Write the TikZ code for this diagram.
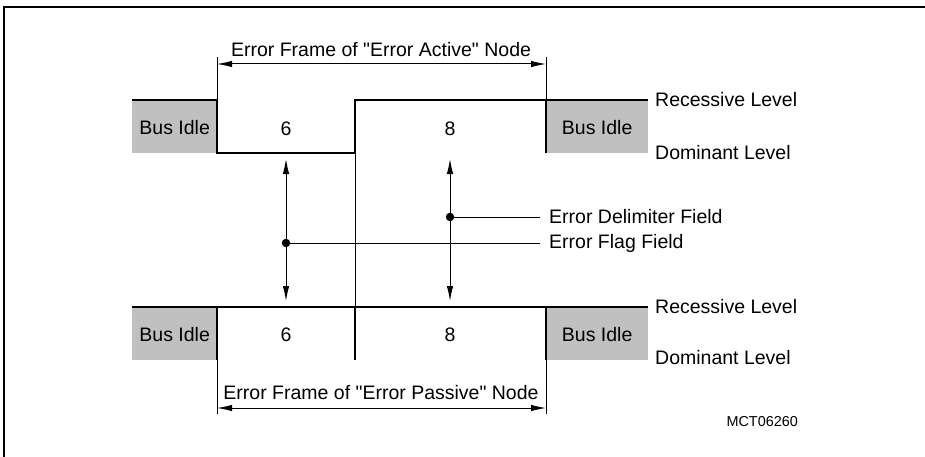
\documentclass[tikz,border=0pt]{standalone}
\usepackage{fontspec}
\setmainfont{Liberation Sans}[Ligatures=TeXOff]
\usetikzlibrary{arrows.meta}
\definecolor{idlegray}{HTML}{C0C0C0}
\begin{document}
\begin{tikzpicture}[x=1pt,y=-1pt,
  lbl/.style={font=\fontsize{19.5}{22}\selectfont, inner sep=0pt},
  small/.style={font=\fontsize{14.4}{16}\selectfont, inner sep=0pt},
  idle/.style={fill=idlegray, draw=none, inner sep=0pt, minimum width=#1, minimum height=52pt, font=\fontsize{19.5}{22}\selectfont},
  wave/.style={line width=2.8pt, line cap=butt, line join=miter},
  thin/.style={line width=1pt},
  dim/.style={line width=1pt, {Latex[length=15pt,width=6.5pt]}-{Latex[length=15pt,width=6.5pt]}},
  dot/.style={circle, fill=black, inner sep=0pt, minimum size=8.5pt}
]
\useasboundingbox (0,0) rectangle (925,457);
% frame (top and left edges)
\draw[line width=2pt] (4,457) -- (4,7) -- (925,7);

% ---------- top waveform ----------
\node[idle=85pt, anchor=north west] (lidleA) at (132,101) {Bus Idle};
\node[idle=102pt, anchor=north west] (ridleA) at (546,101) {Bus Idle};
\coordinate (a0) at (132,100);
\coordinate (a1) at (217,100);
\coordinate (a2) at (217,153);
\coordinate (a3) at (355,153);
\coordinate (a4) at (355,100);
\coordinate (a5) at (648,100);
\coordinate (a6) at (546,100);
\coordinate (a7) at (546,153);
\draw[wave] (a0) -- (a1) -- (a2) -- (a3) -- (a4) -- (a5);
\draw[wave] (a6) -- (a7);
\node[lbl] (sixA) at (286,129) {6};
\node[lbl] (eightA) at (450,129) {8};
\node[lbl, anchor=west] (recA) at (655,100) {Recessive Level};
\node[lbl, anchor=west] (domA) at (655,153) {Dominant Level};

% dimension top
\coordinate (ea1) at (217,57);
\coordinate (ea2) at (546,57);
\coordinate (da1) at (217,64);
\coordinate (da2) at (546,64);
\draw[thin] (ea1) -- (a1);
\draw[thin] (ea2) -- (a6);
\draw[dim] (da1) -- (da2);
\node[lbl] (titleA) at (381,50) {Error Frame of "Error Active" Node};

% ---------- bottom waveform ----------
\node[idle=85pt, anchor=north west] (lidleB) at (132,308) {Bus Idle};
\node[idle=102pt, anchor=north west] (ridleB) at (546,308) {Bus Idle};
\coordinate (b0) at (132,307);
\coordinate (b5) at (648,307);
\coordinate (b1) at (217,307);
\coordinate (b1d) at (217,360);
\coordinate (b3) at (355,307);
\coordinate (b3d) at (355,360);
\coordinate (b6) at (546,307);
\coordinate (b6d) at (546,360);
\draw[wave] (b0) -- (b5);
\draw[wave] (b1) -- (b1d);
\draw[wave] (b3) -- (b3d);
\draw[wave] (b6) -- (b6d);
\node[lbl] (sixB) at (286,335) {6};
\node[lbl] (eightB) at (450,335) {8};
\node[lbl, anchor=west] (recB) at (655,307) {Recessive Level};
\node[lbl, anchor=west] (domB) at (655,358) {Dominant Level};

% thin separator between the two waveforms
\draw[thin] (a3) -- (b3);

% dimension bottom
\coordinate (eb1) at (217,414);
\coordinate (eb2) at (546,414);
\coordinate (db1) at (217,408);
\coordinate (db2) at (546,408);
\draw[thin] (b1d) -- (eb1);
\draw[thin] (b6d) -- (eb2);
\draw[dim] (db1) -- (db2);
\node[lbl] (titleB) at (381,393) {Error Frame of "Error Passive" Node};

% ---------- level arrows ----------
\coordinate (fl1) at (286,159);
\coordinate (fl2) at (286,301);
\coordinate (dl1) at (450,159);
\coordinate (dl2) at (450,301);
\draw[dim] (fl1) -- (fl2);
\draw[dim] (dl1) -- (dl2);
\node[dot] (flagdot) at (286,243) {};
\node[dot] (delimdot) at (450,217) {};
\coordinate (flagend) at (540,243);
\coordinate (delimend) at (540,217);
\draw[thin] (flagdot.center) -- (flagend);
\draw[thin] (delimdot.center) -- (delimend);
\node[lbl, anchor=west] (delimtxt) at (549,217) {Error Delimiter Field};
\node[lbl, anchor=west] (flagtxt) at (549,243) {Error Flag Field};

\node[small, anchor=east] (code) at (798,422) {MCT06260};
\end{tikzpicture}
\end{document}
